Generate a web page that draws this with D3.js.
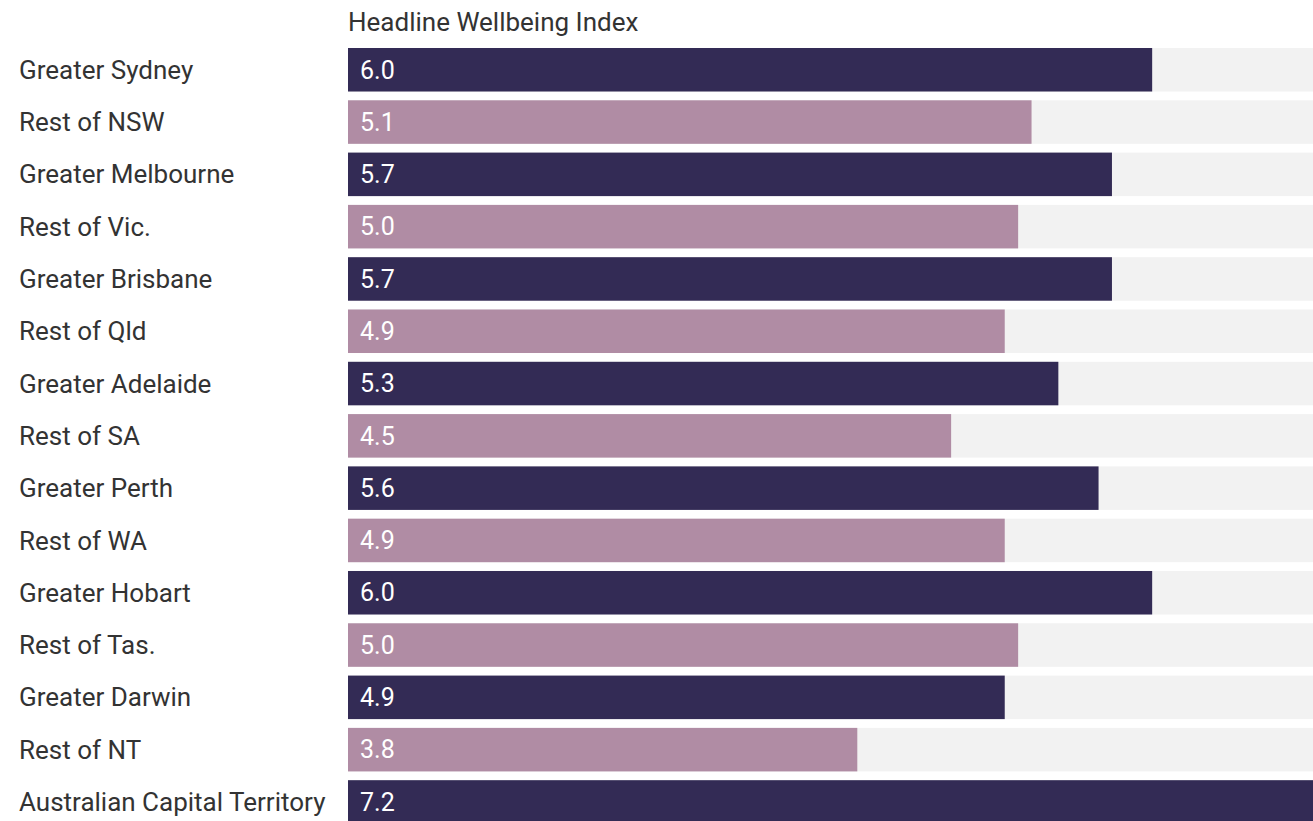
<!DOCTYPE html>
<html><head><meta charset="utf-8">
<script src="https://cdn.jsdelivr.net/npm/d3@7"></script>
<style>body{margin:0;background:#fff}svg{display:block}</style>
</head><body>
<svg id="c" width="1313" height="821"></svg>
<script>
const categories = ["Greater Sydney","Rest of NSW","Greater Melbourne","Rest of Vic.","Greater Brisbane","Rest of Qld","Greater Adelaide","Rest of SA","Greater Perth","Rest of WA","Greater Hobart","Rest of Tas.","Greater Darwin","Rest of NT","Australian Capital Territory"];
const values = [6.0,5.1,5.7,5.0,5.7,4.9,5.3,4.5,5.6,4.9,6.0,5.0,4.9,3.8,7.2];
const groups = ["Greater","Rest","Greater","Rest","Greater","Rest","Greater","Rest","Greater","Rest","Greater","Rest","Greater","Rest","Greater"];
const title = "Headline Wellbeing Index";
const maxValue = 7.2;

const svg = d3.select("#c");
const x = d3.scaleLinear().domain([0, maxValue]).range([348, 1313]);
const y = d3.scaleBand().domain(categories).range([48, 823.7]).paddingInner(0.168).paddingOuter(0);
const color = d3.scaleOrdinal().domain(["Greater","Rest"]).range(["#332b55","#b08ca4"]);

svg.append("text").attr("x", 348).attr("y", 22).attr("dy","0.35em")
  .attr("font-family","Roboto").attr("font-size", 26).attr("fill","#333").text(title);

const rows = svg.selectAll("g.row").data(categories).join("g").attr("class","row");
rows.append("rect").attr("x", x(0)).attr("y", d => y(d)).attr("width", x.range()[1]-x(0))
  .attr("height", y.bandwidth()).attr("fill","#f2f2f2");
rows.append("rect").attr("x", x(0)).attr("y", d => y(d)).attr("width", (d,i) => x(values[i]) - x(0))
  .attr("height", y.bandwidth()).attr("fill", (d,i) => color(groups[i]));
rows.append("text").attr("x", 360).attr("y", d => y(d) + y.bandwidth()/2).attr("dy","0.35em")
  .attr("font-family","Roboto").attr("font-size", 25).attr("fill","#fff")
  .text((d,i) => d3.format(".1f")(values[i]));
rows.append("text").attr("x", 19).attr("y", d => y(d) + y.bandwidth()/2).attr("dy","0.35em")
  .attr("font-family","Roboto").attr("font-size", 26).attr("fill","#333").text(d => d);
</script>
</body></html>
